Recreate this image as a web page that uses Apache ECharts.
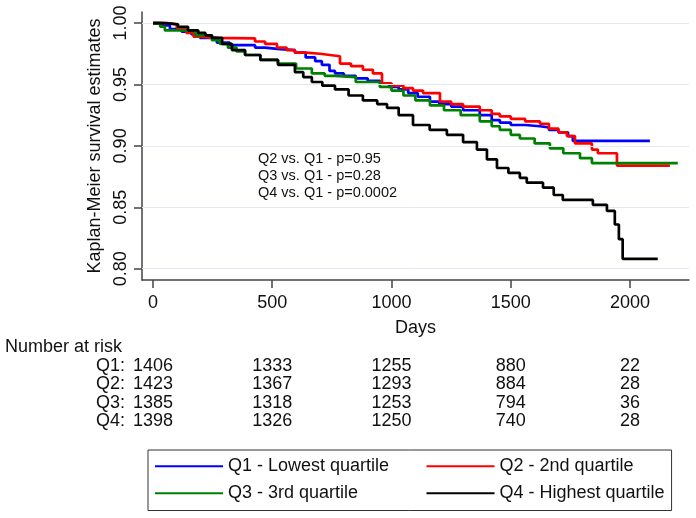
<!DOCTYPE html>
<html>
<head>
<meta charset="utf-8">
<script src="https://cdn.jsdelivr.net/npm/echarts@6/dist/echarts.min.js"></script>
<style>
html, body { margin: 0; padding: 0; background: #fff; }
#chart { width: 696px; height: 518px; }
</style>
</head>
<body>
<div id="chart"></div>
<script>
// Kaplan-Meier steps, [days, survival]
var q1 = [[0,1.000],[40,0.998],[71,0.995],[120,0.993],[160,0.991],[197,0.988],[268,0.984],[322,0.982],[428,0.980],[470,0.979],[520,0.978],[595,0.976],[640,0.972],[680,0.969],[708,0.966],[740,0.961],[763,0.959],[800,0.957],[850,0.955],[900,0.953],[951,0.951],[990,0.948],[1030,0.946],[1070,0.943],[1110,0.940],[1161,0.936],[1200,0.934],[1250,0.932],[1300,0.929],[1370,0.925],[1420,0.921],[1454,0.919],[1500,0.917],[1560,0.916],[1622,0.915],[1660,0.913],[1700,0.911],[1740,0.908],[1760,0.904],[2083,0.904]];
var q2 = [[0,1.000],[60,0.999],[100,0.996],[140,0.992],[170,0.989],[200,0.988],[250,0.9875],[428,0.985],[470,0.983],[520,0.980],[560,0.978],[595,0.976],[640,0.975],[700,0.974],[742,0.973],[784,0.967],[830,0.965],[880,0.962],[922,0.959],[960,0.951],[1000,0.949],[1050,0.947],[1090,0.945],[1132,0.943],[1203,0.936],[1250,0.934],[1300,0.932],[1370,0.929],[1420,0.926],[1454,0.924],[1500,0.922],[1560,0.920],[1622,0.918],[1660,0.914],[1700,0.911],[1735,0.908],[1769,0.902],[1840,0.897],[1865,0.894],[1945,0.884],[2167,0.884]];
var q3 = [[0,1.000],[30,0.997],[50,0.994],[134,0.993],[180,0.990],[247,0.986],[280,0.983],[314,0.980],[350,0.977],[386,0.974],[450,0.970],[524,0.967],[600,0.963],[666,0.959],[720,0.957],[763,0.956],[850,0.952],[951,0.948],[1000,0.945],[1050,0.941],[1100,0.937],[1161,0.933],[1220,0.929],[1290,0.925],[1370,0.920],[1420,0.916],[1454,0.913],[1500,0.909],[1538,0.906],[1600,0.902],[1664,0.898],[1720,0.894],[1790,0.890],[1840,0.886],[2200,0.886]];
var q4 = [[0,1.000],[50,0.999],[105,0.997],[147,0.994],[190,0.992],[220,0.990],[247,0.988],[290,0.983],[331,0.978],[386,0.974],[450,0.970],[524,0.966],[595,0.960],[630,0.956],[666,0.952],[710,0.949],[763,0.946],[820,0.941],[880,0.937],[940,0.934],[981,0.931],[1030,0.925],[1090,0.917],[1160,0.913],[1232,0.909],[1300,0.903],[1358,0.897],[1400,0.889],[1442,0.882],[1490,0.878],[1538,0.874],[1567,0.870],[1635,0.866],[1680,0.860],[1718,0.856],[1844,0.852],[1903,0.847],[1936,0.836],[1953,0.824],[1969,0.808],[2116,0.808]];

var xTicks = [0, 500, 1000, 1500, 2000];
var yTicks = [0.80, 0.85, 0.90, 0.95, 1.00];
var groups = ['Q1', 'Q2', 'Q3', 'Q4'];
var legendNames = ['Q1 - Lowest quartile', 'Q2 - 2nd quartile', 'Q3 - 3rd quartile', 'Q4 - Highest quartile'];
var colors = ['#0000ff', '#ff0000', '#008000', '#000000'];
var atRisk = [
    [1406, 1333, 1255, 880, 22],
    [1423, 1367, 1293, 884, 28],
    [1385, 1318, 1253, 794, 36],
    [1398, 1326, 1250, 740, 28]
];
var pTexts = ['Q2 vs. Q1 - p=0.95', 'Q3 vs. Q1 - p=0.28', 'Q4 vs. Q1 - p=0.0002'];

var FONT = '"Liberation Sans", Arial, sans-serif';
var chart = echarts.init(document.getElementById('chart'));
var curves = [q1, q2, q3, q4];

var series = [{
    // grid lines only
    type: 'line', data: [], z: 1, silent: true,
    markLine: {
        silent: true, symbol: 'none', label: { show: false },
        lineStyle: { color: '#e4eaf1', width: 1, type: 'solid' },
        data: yTicks.map(function (v) { return { yAxis: v }; })
    }
}];
curves.forEach(function (c, i) {
    series.push({
        name: legendNames[i],
        type: 'line',
        step: 'end',
        data: c,
        symbol: 'none',
        z: 2 + i,
        color: colors[i],
        lineStyle: { color: colors[i], width: 2.7 }
    });
});

var option = {
    animation: false,
    backgroundColor: '#fff',
    textStyle: { fontFamily: FONT },
    grid: { left: 142, right: 7, top: 12, bottom: 238 },
    xAxis: {
        type: 'value', min: -46, max: 2247,
        name: 'Days', nameLocation: 'middle', nameGap: 39,
        nameTextStyle: { fontSize: 18, color: '#111', fontFamily: FONT },
        axisLine: { onZero: false, lineStyle: { color: '#444', width: 1.5 } },
        axisTick: { show: true, length: 8, customValues: xTicks, lineStyle: { color: '#444', width: 1.5 } },
        axisLabel: {
            customValues: xTicks, margin: 14, fontSize: 18, color: '#111', fontFamily: FONT,
            formatter: function (v) { return String(v); }
        },
        splitLine: { show: false }
    },
    yAxis: {
        type: 'value', min: 0.7908, max: 1.009,
        name: 'Kaplan-Meier survival estimates', nameLocation: 'middle', nameGap: 35,
        nameTextStyle: { fontSize: 18, color: '#111', fontFamily: FONT },
        axisLine: { show: true, onZero: false, lineStyle: { color: '#444', width: 1.5 } },
        axisTick: { show: true, length: 8, customValues: yTicks, lineStyle: { color: '#444', width: 1.5 } },
        axisLabel: {
            customValues: yTicks, rotate: 90, margin: 12, fontSize: 18, color: '#111', fontFamily: FONT,
            formatter: function (v) { return v.toFixed(2); }
        },
        splitLine: { show: false }
    },
    legend: {
        left: 148, top: 450, width: 525,
        orient: 'horizontal',
        padding: [7, 7, 8, 7],
        borderColor: '#333', borderWidth: 1,
        icon: 'rect',
        itemWidth: 68, itemHeight: 2.2, itemGap: 8.5,
        textStyle: { fontSize: 18, lineHeight: 18.5, color: '#111', fontFamily: FONT },
        data: legendNames.map(function (n, i) {
            return i % 2 === 0 ? { name: n, textStyle: { width: 190 } } : { name: n };
        })
    },
    series: series
};
chart.setOption(option);

// annotations and number-at-risk table, placed with the x scale
var graphics = [];
pTexts.forEach(function (t, i) {
    graphics.push({
        type: 'text', left: 258, top: 151 + i * 17,
        style: { text: t, fontSize: 14.5, fill: '#111', fontFamily: FONT }
    });
});
graphics.push({
    type: 'text', x: 5, y: 347,
    style: { text: 'Number at risk', fontSize: 18, fill: '#111', fontFamily: FONT, verticalAlign: 'middle' }
});
var rowY = [366, 384.5, 403, 421.5];
atRisk.forEach(function (row, r) {
    var x0 = chart.convertToPixel({ xAxisIndex: 0 }, xTicks[0]);
    graphics.push({
        type: 'text', x: x0 - 28, y: rowY[r],
        style: { text: groups[r] + ':', fontSize: 18, fill: '#111', fontFamily: FONT, align: 'right', verticalAlign: 'middle' }
    });
    row.forEach(function (n, c) {
        graphics.push({
            type: 'text', x: chart.convertToPixel({ xAxisIndex: 0 }, xTicks[c]), y: rowY[r],
            style: { text: String(n), fontSize: 18, fill: '#111', fontFamily: FONT, align: 'center', verticalAlign: 'middle' }
        });
    });
});
chart.setOption({ graphic: graphics });
</script>
</body>
</html>
